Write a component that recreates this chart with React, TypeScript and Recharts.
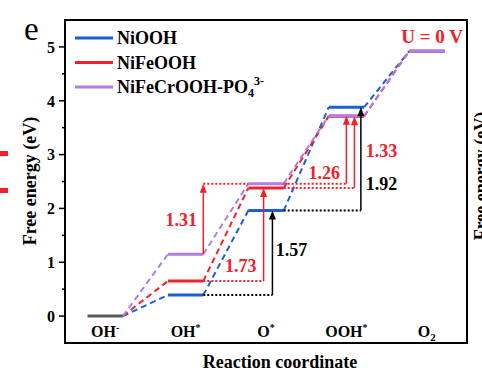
import React from "react";
import {
  ComposedChart,
  Line,
  XAxis,
  YAxis,
  ReferenceLine,
  ReferenceArea,
  ReferenceDot,
} from "recharts";

// reaction steps (x categories)
const stepBase = ["OH", "OH", "O", "OOH", "O"];
const stepSup = ["-", "*", "*", "*", ""];
const stepSub = ["", "", "", "", "2"];

// free energy at each step (eV)
const niooh = [0, 0.39, 1.96, 3.88, 4.92];
const nifeooh = [0, 0.65, 2.38, 3.71, 4.92];
const nifecr = [0, 1.15, 2.46, 3.72, 4.92];

const yTicks = [0, 1, 2, 3, 4, 5];

const BLUE = "#1c5fd4";
const RED = "#f3202a";
const PURPLE = "#b07ee0";
const GREY = "#5a5a5a";
const FONT = "'Liberation Serif', 'Times New Roman', serif";

const HW = 0.22; // half width of an energy level
const X_DOMAIN: [number, number] = [-0.5, 4.5];
const Y_DOMAIN: [number, number] = [-0.5, 5.5];

const levels = (v: number[]) =>
  v.slice(1).flatMap((y, k) => {
    const i = k + 1;
    return [
      { x: i - HW, y },
      { x: i + HW, y },
      { x: i + 0.5, y: null },
    ];
  });

const connectors = (v: number[]) =>
  v.slice(0, -1).flatMap((y, i) => [
    { x: i + HW, y },
    { x: i + 1 - HW, y: v[i + 1] },
    { x: i + 1, y: null },
  ]);

const series = [
  { name: "NiOOH", v: niooh, color: BLUE },
  { name: "NiFeOOH", v: nifeooh, color: RED },
  { name: "NiFeCrOOH-PO4", v: nifecr, color: PURPLE },
];

// barrier annotations: arrow from step `from` to `to` of a series
const notes = [
  { v: niooh, from: 1, to: 2, ax: 2.08, color: "#000", dot: [1 + HW, 2.08], dotAt: "from", lx: 2.12, ly: 1.11 },
  { v: niooh, from: 2, to: 3, ax: 3.18, color: "#000", dot: [2 + HW, 3.18], dotAt: "from", lx: 3.24, ly: 2.35 },
  { v: nifeooh, from: 1, to: 2, ax: 1.97, color: RED, dot: [1 + HW, 1.97], dotAt: "from", lx: 1.49, ly: 0.81 },
  { v: nifeooh, from: 2, to: 3, ax: 3.1, color: RED, dot: [2 + HW, 3.1], dotAt: "from", lx: 3.24, ly: 2.96 },
  { v: nifecr, from: 1, to: 2, ax: 1 + HW, color: RED, dot: [1 + HW, 2 - HW], dotAt: "to", lx: 0.75, ly: 1.67 },
  { v: nifecr, from: 2, to: 3, ax: 3.0, color: RED, dot: [2 + HW, 3.0], dotAt: "from", lx: 2.53, ly: 2.54 },
];

const arrowShape = (color: string) => (p: any) => {
  const { x1, y1, x2, y2 } = p;
  return (
    <g>
      <line x1={x1} y1={y1} x2={x2} y2={y2 + 7} stroke={color} strokeWidth={1.5} />
      <polygon
        points={`${x2},${y2} ${x2 - 3.5},${y2 + 9} ${x2 + 3.5},${y2 + 9}`}
        fill={color}
      />
    </g>
  );
};

const YTick = (p: any) => {
  const val = p.payload.value;
  const major = Number.isInteger(val);
  return (
    <g>
      <line x1={p.x} x2={p.x - (major ? 6 : 3)} y1={p.y} y2={p.y} stroke="#000" strokeWidth={1.5} />
      {major && (
        <text x={p.x - 10} y={p.y} dy="0.36em" textAnchor="end" fontFamily={FONT} fontWeight="bold" fontSize={16} fill="#000">
          {val}
        </text>
      )}
    </g>
  );
};

const XTick = (p: any) => {
  const i = p.payload.value;
  return (
    <text x={p.x} y={p.y - 6} textAnchor="middle" fontFamily={FONT} fontWeight="bold" fontSize={16} fill="#000">
      {stepBase[i]}
      {stepSup[i] && (
        <tspan dy={-6} fontSize={10}>
          {stepSup[i]}
        </tspan>
      )}
      {stepSub[i] && (
        <tspan dy={4} fontSize={11}>
          {stepSub[i]}
        </tspan>
      )}
    </text>
  );
};

export default function App() {
  const bold = { fontFamily: FONT, fontWeight: "bold" as const };
  return (
    <div style={{ position: "absolute", left: 0, top: 0, width: 482, height: 384, background: "#fff" }}>
      <ComposedChart width={482} height={384} margin={{ top: 20, right: 15, bottom: 0, left: 0 }}>
        <XAxis
          type="number"
          dataKey="x"
          domain={X_DOMAIN}
          allowDataOverflow
          ticks={[0, 1, 2, 3, 4]}
          interval={0}
          tick={XTick}
          tickLine={false}
          tickSize={0}
          tickMargin={0}
          axisLine={false}
          height={41}
        />
        <YAxis
          type="number"
          domain={Y_DOMAIN}
          allowDataOverflow
          ticks={yTicks.flatMap((t) => (t < 5 ? [t, t + 0.5] : [t]))}
          interval={0}
          tick={YTick}
          tickLine={false}
          tickSize={0}
          tickMargin={0}
          axisLine={false}
          width={65}
        />
        <ReferenceArea
          x1={X_DOMAIN[0]}
          x2={X_DOMAIN[1]}
          y1={Y_DOMAIN[0]}
          y2={Y_DOMAIN[1]}
          fill="none"
          stroke="#000"
          strokeWidth={2}
        />
        {series.map((s) => (
          <Line
            key={s.name + "-c"}
            data={connectors(s.v)}
            dataKey="y"
            stroke={s.color}
            strokeWidth={2}
            strokeDasharray="6 4"
            dot={false}
            activeDot={false}
            isAnimationActive={false}
          />
        ))}
        <Line
          data={[
            { x: -HW, y: niooh[0] },
            { x: HW, y: niooh[0] },
          ]}
          dataKey="y"
          stroke={GREY}
          strokeWidth={3}
          dot={false}
          activeDot={false}
          isAnimationActive={false}
        />
        {series.map((s) => (
          <Line
            key={s.name + "-l"}
            data={levels(s.v)}
            dataKey="y"
            stroke={s.color}
            strokeWidth={3}
            dot={false}
            activeDot={false}
            isAnimationActive={false}
          />
        ))}
        {notes.map((n, k) => {
          const dy = n.dotAt === "from" ? n.v[n.from] : n.v[n.to];
          return (
            <ReferenceLine
              key={"d" + k}
              segment={[
                { x: n.dot[0], y: dy },
                { x: n.dot[1], y: dy },
              ]}
              stroke={n.color}
              strokeWidth={2}
              strokeDasharray="2 2"
            />
          );
        })}
        {notes.map((n, k) => (
          <ReferenceLine
            key={"a" + k}
            segment={[
              { x: n.ax, y: n.v[n.from] },
              { x: n.ax, y: n.v[n.to] },
            ]}
            shape={arrowShape(n.color)}
          />
        ))}
        {notes.map((n, k) => (
          <ReferenceDot
            key={"t" + k}
            x={n.lx}
            y={n.ly}
            r={0}
            shape={(p: any) => (
              <text x={p.cx} y={p.cy} fontFamily={FONT} fontWeight="bold" fontSize={18} fill={n.color === "#000" ? "#000" : RED}>
                {(n.v[n.to] - n.v[n.from]).toFixed(2)}
              </text>
            )}
          />
        ))}
      </ComposedChart>
      <svg width={482} height={384} style={{ position: "absolute", left: 0, top: 0, pointerEvents: "none" }}>
        <text x={24} y={40} fontFamily={FONT} fontSize={33} fill="#000">
          e
        </text>
        <text x={463} y={43} textAnchor="end" {...bold} fontSize={19} fill={RED}>
          U = 0 V
        </text>
        {series.map((s, i) => (
          <g key={s.name}>
            <line x1={75} x2={113} y1={38 + i * 24.5} y2={38 + i * 24.5} stroke={s.color} strokeWidth={3} />
            <text x={117} y={44 + i * 24.5} {...bold} fontSize={18} fill="#000">
              {i === 2 ? (
                <>
                  NiFeCrOOH-PO
                  <tspan dy={4} fontSize={12}>4</tspan>
                  <tspan dy={-12} fontSize={12}>3-</tspan>
                </>
              ) : (
                s.name
              )}
            </text>
          </g>
        ))}
        <text x={280} y={368} textAnchor="middle" {...bold} fontSize={18} fill="#000">
          Reaction coordinate
        </text>
        <text x={36} y={181} textAnchor="middle" transform="rotate(-90 36 181)" {...bold} fontSize={18} fill="#000">
          Free energy (eV)
        </text>
        <text x={487} y={176} textAnchor="middle" transform="rotate(-90 487 176)" {...bold} fontSize={18} fill="#000">
          Free energy (eV)
        </text>
        <rect x={0} y={151} width={8} height={5} fill={RED} />
        <rect x={0} y={188} width={8} height={5} fill={RED} />
      </svg>
    </div>
  );
}
